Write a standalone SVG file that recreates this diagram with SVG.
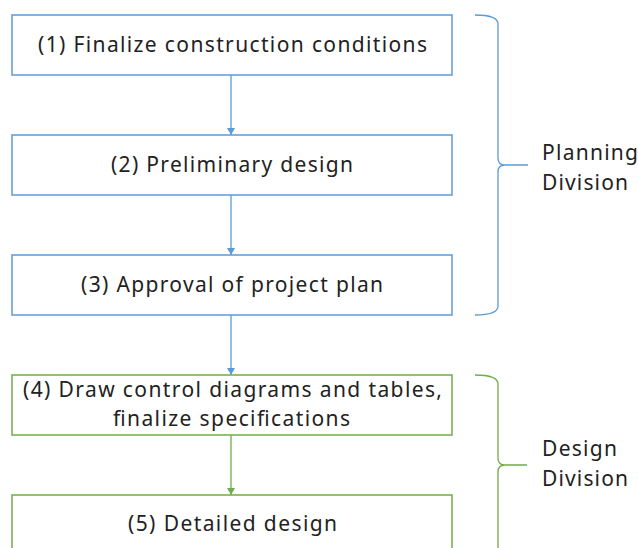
<svg xmlns="http://www.w3.org/2000/svg" width="638" height="548" viewBox="0 0 638 548">
<style>
.t{font-family:"Noto Sans","Liberation Sans",sans-serif;font-size:21px;fill:#222;}
.bb{fill:#fff;stroke:#5B9BD5;stroke-width:1.5;}
.gb{fill:#fff;stroke:#70AD47;stroke-width:1.5;}
.bl{stroke:#5B9BD5;stroke-width:1.3;fill:none;}
.gl{stroke:#70AD47;stroke-width:1.3;fill:none;}
</style>
<defs>
<marker id="ab" markerWidth="8" markerHeight="8" refX="7" refY="4" orient="auto" markerUnits="userSpaceOnUse"><path d="M0,0 L7,4 L0,8 z" fill="#5B9BD5"/></marker>
<marker id="ag" markerWidth="8" markerHeight="8" refX="7" refY="4" orient="auto" markerUnits="userSpaceOnUse"><path d="M0,0 L7,4 L0,8 z" fill="#70AD47"/></marker>
</defs>
<rect width="638" height="548" fill="#fff"/>
<g id="connectors">
<line class="bl" x1="231" y1="75" x2="231" y2="135" marker-end="url(#ab)"/>
<line class="bl" x1="231" y1="195" x2="231" y2="255" marker-end="url(#ab)"/>
<line class="bl" x1="231" y1="315" x2="231" y2="375" marker-end="url(#ab)"/>
<line class="gl" x1="231" y1="435" x2="231" y2="495" marker-end="url(#ag)"/>
</g>
<g id="n1"><rect class="bb" x="12" y="15" width="440" height="60"/><text class="t" x="38" y="52" textLength="389" lengthAdjust="spacing">(1) Finalize construction conditions</text></g>
<g id="n2"><rect class="bb" x="12" y="135" width="440" height="60"/><text class="t" x="111" y="172" textLength="242" lengthAdjust="spacing">(2) Preliminary design</text></g>
<g id="n3"><rect class="bb" x="12" y="255" width="440" height="60"/><text class="t" x="81" y="292" textLength="302" lengthAdjust="spacing">(3) Approval of project plan</text></g>
<g id="n4"><rect class="gb" x="12" y="375" width="440" height="60"/><text class="t" x="23" y="397" textLength="419" lengthAdjust="spacing">(4) Draw control diagrams and tables,</text><text class="t" x="113" y="426" textLength="237" lengthAdjust="spacing">finalize specifications</text></g>
<g id="n5"><rect class="gb" x="12" y="495" width="440" height="60"/><text class="t" x="128" y="531" textLength="209" lengthAdjust="spacing">(5) Detailed design</text></g>
<g id="planning">
<path class="bl" d="M475,15 Q498,15 498,24 V158 Q498,165 505,165 H528 M505,165 Q498,165 498,172 V306 Q498,315 475,315"/>
<text class="t" x="542" y="160" textLength="96" lengthAdjust="spacing">Planning</text><text class="t" x="542" y="190" textLength="86" lengthAdjust="spacing">Division</text>
</g>
<g id="design">
<path class="gl" d="M475,375 Q498,375 498,384 V458 Q498,465 505,465 H527 M505,465 Q498,465 498,472 V560"/>
<text class="t" x="542" y="456" textLength="75" lengthAdjust="spacing">Design</text><text class="t" x="542" y="486" textLength="86" lengthAdjust="spacing">Division</text>
</g>
</svg>
